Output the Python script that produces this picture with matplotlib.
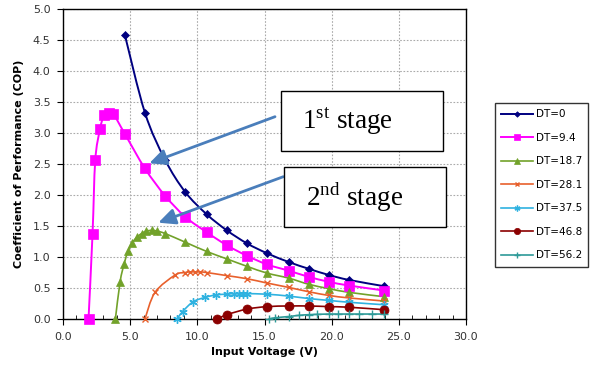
import numpy as np
import matplotlib
matplotlib.use('Agg')
import matplotlib.pyplot as plt
from matplotlib.path import Path
from matplotlib.patches import PathPatch, Rectangle, FancyArrowPatch
from matplotlib.lines import Line2D
from matplotlib.ticker import FormatStrFormatter

plt.rcParams['font.family'] = ['DejaVu Sans']
plt.rcParams['mathtext.fontset'] = 'custom'
plt.rcParams['mathtext.rm'] = 'Liberation Serif'

# COP vs input voltage for each temperature difference
dt0_v = [4.6, 6.1, 7.6, 9.1, 10.7, 12.2, 13.7, 15.2, 16.8, 18.3, 19.8, 21.3, 23.9]
dt0_cop = [4.59, 3.33, 2.57, 2.05, 1.69, 1.43, 1.22, 1.06, 0.92, 0.81, 0.71, 0.63, 0.53]

dt9_v = [1.9, 2.2, 2.4, 2.75, 3.05, 3.4, 3.75, 4.6, 6.1, 7.6, 9.1, 10.7, 12.2, 13.7,
         15.2, 16.8, 18.3, 19.8, 21.3, 23.9]
dt9_cop = [0.0, 1.38, 2.56, 3.06, 3.29, 3.33, 3.31, 2.99, 2.43, 1.99, 1.65, 1.40, 1.19,
           1.02, 0.88, 0.78, 0.68, 0.60, 0.54, 0.46]

dt18_v = [3.9, 4.25, 4.55, 4.85, 5.15, 5.5, 5.85, 6.2, 6.6, 7.0, 7.6, 9.1, 10.7, 12.2,
          13.7, 15.2, 16.8, 18.3, 19.8, 21.3, 23.9]
dt18_cop = [0.0, 0.6, 0.89, 1.10, 1.23, 1.32, 1.38, 1.42, 1.43, 1.42, 1.38, 1.24, 1.09,
            0.97, 0.85, 0.74, 0.66, 0.56, 0.49, 0.43, 0.36]

dt28_v = [6.1, 6.85, 8.35, 9.1, 9.45, 9.8, 10.2, 10.7, 12.2, 13.7, 15.2, 16.8, 18.3,
          19.8, 21.3, 23.9]
dt28_cop = [0.0, 0.43, 0.71, 0.75, 0.76, 0.76, 0.76, 0.75, 0.70, 0.65, 0.58, 0.51, 0.44,
            0.38, 0.34, 0.29]

dt37_v = [8.5, 8.9, 9.7, 10.6, 11.4, 12.2, 12.7, 13.1, 13.4, 13.7, 15.2, 16.8, 18.3,
          19.8, 21.3, 23.9]
dt37_cop = [0.0, 0.12, 0.28, 0.35, 0.39, 0.40, 0.41, 0.41, 0.41, 0.41, 0.40, 0.37, 0.33,
            0.30, 0.27, 0.23]

dt46_v = [11.5, 12.2, 13.7, 15.2, 16.8, 18.3, 19.8, 21.3, 23.9]
dt46_cop = [0.0, 0.07, 0.16, 0.20, 0.21, 0.21, 0.20, 0.19, 0.15]

dt56_v = [15.3, 15.8, 16.8, 17.6, 18.3, 18.9, 19.8, 20.5, 21.3, 22.0, 23.0, 23.9]
dt56_cop = [0.0, 0.02, 0.04, 0.06, 0.07, 0.075, 0.08, 0.08, 0.08, 0.08, 0.08, 0.08]

labels = ['DT=0', 'DT=9.4', 'DT=18.7', 'DT=28.1', 'DT=37.5', 'DT=46.8', 'DT=56.2']
colors = ['#000080', '#FF00FF', '#72A22A', '#E8602C', '#2FB2E0', '#8B0000', '#2E9A98']
markers = ['D', 's', '^', 'x', (6, 2, 0), 'o', '+']
msizes = [4, 6.5, 6, 5, 6, 6.5, 6]
series = [(dt0_v, dt0_cop), (dt9_v, dt9_cop), (dt18_v, dt18_cop), (dt28_v, dt28_cop),
          (dt37_v, dt37_cop), (dt46_v, dt46_cop), (dt56_v, dt56_cop)]


def smooth_path(x, y):
    # cubic bezier through every point (catmull-rom style control points)
    pts = np.column_stack([x, y]).astype(float)
    n = len(pts)
    verts = [pts[0]]
    codes = [Path.MOVETO]
    for i in range(n - 1):
        p0 = pts[max(i - 1, 0)]
        p1 = pts[i]
        p2 = pts[i + 1]
        p3 = pts[min(i + 2, n - 1)]
        verts += [p1 + (p2 - p0) / 6.0, p2 - (p3 - p1) / 6.0, p2]
        codes += [Path.CURVE4] * 3
    return Path(verts, codes)


W, H = 594, 366
fig = plt.figure(figsize=(W / 100, H / 100), dpi=100)
ax = fig.add_axes([63 / W, 1 - 319 / H, (466 - 63) / W, (319 - 9.3) / H])

handles = []
for (v, c), lab, col, mk, ms in zip(series, labels, colors, markers, msizes):
    lw = 1.4 if lab in ('DT=0', 'DT=9.4') else 1.2
    ax.add_patch(PathPatch(smooth_path(v, c), fill=False, edgecolor=col, lw=lw, zorder=3))
    mew = 1.0 if mk in ('x', '+') or isinstance(mk, tuple) else 0.5
    ax.plot(v, c, ls='none', marker=mk, ms=ms, color=col, mec=col, mew=mew, zorder=4,
            clip_on=False)
    handles.append(Line2D([], [], color=col, lw=lw, marker=mk, ms=ms * 0.7, mew=mew))

ax.set_xlim(0, 30)
ax.set_ylim(0, 5)
ax.set_xticks(np.arange(0, 30.1, 5))
ax.set_yticks(np.arange(0, 5.01, 0.5))
ax.set_xticks(np.arange(0, 30.1, 1), minor=True)
ax.xaxis.set_major_formatter(FormatStrFormatter('%.1f'))
ax.yaxis.set_major_formatter(FormatStrFormatter('%.1f'))
ax.tick_params(axis='both', which='major', labelsize=8, length=4, width=0.8,
               colors='black', labelcolor='#333333', pad=5)
ax.tick_params(axis='x', which='minor', direction='in', length=3, width=0.6)
ax.grid(True, which='major', color='#aaaaaa', lw=0.8, ls=(0, (1.5, 1.5)))
ax.set_axisbelow(True)
for s in ax.spines.values():
    s.set_color('black')
    s.set_linewidth(1.0)

ax.set_xlabel('Input Voltage (V)', fontsize=8, fontweight='bold', labelpad=4)
ax.set_ylabel('Coefficient of Performance (COP)', fontsize=8, fontweight='bold', labelpad=6)


def fx(px):
    return px / W


def fy(py):
    return 1 - py / H


# stage callouts
arrow_col = '#4A7EBB'
for (tx, ty), (hx, hy) in [((275, 116.7), (149.3, 163.3)), ((283.3, 176.7), (158.3, 222.7))]:
    fig.add_artist(FancyArrowPatch(
        (fx(tx), fy(ty)), (fx(hx), fy(hy)), transform=fig.transFigure,
        arrowstyle='-|>,head_length=0.85,head_width=0.4', mutation_scale=12,
        color=arrow_col, lw=2.0, shrinkA=0, shrinkB=0, zorder=6))

for (x0, y0, x1, y1), txt in [((280.5, 90.5, 442.5, 150.5), r'1$^{\mathrm{st}}$ stage'),
                              ((283.5, 166.5, 445.5, 226.5), r'2$^{\mathrm{nd}}$ stage')]:
    fig.add_artist(Rectangle((fx(x0), fy(y1)), fx(x1 - x0), (y1 - y0) / H,
                             transform=fig.transFigure, facecolor='white',
                             edgecolor='black', lw=1.0, zorder=7))
    fig.text(fx(x0 + 22), fy((y0 + y1) / 2 + 1), txt, fontsize=19.5,
             family='Liberation Serif', va='center', ha='left', zorder=8)

fig.legend(handles, labels, loc='upper left', bbox_to_anchor=(fx(495), fy(103)),
           bbox_transform=fig.transFigure, frameon=True, fancybox=False,
           edgecolor='black', fontsize=7.5, handlelength=3.0, labelspacing=1.3,
           borderpad=0.6, handletextpad=0.3, borderaxespad=0)

fig.savefig('out.png', dpi=100)
